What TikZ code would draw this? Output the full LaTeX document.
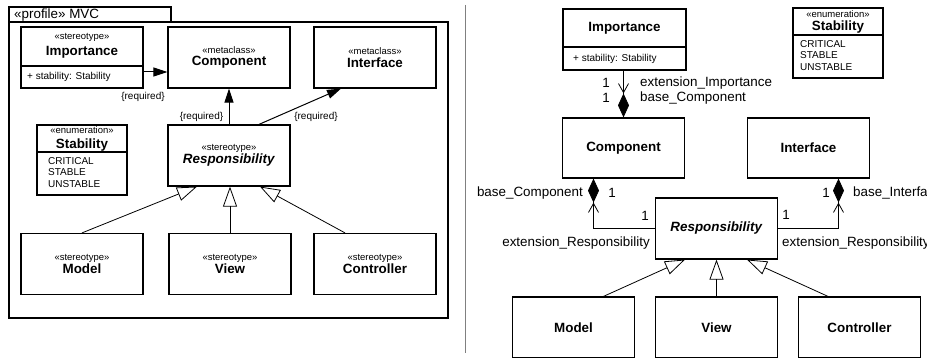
\documentclass[tikz,border=0pt]{standalone}
\usepackage{fontspec}
\setmainfont{Liberation Sans}
\usetikzlibrary{arrows.meta}

\def\bigsize{\fontsize{13.4}{15}\selectfont}
\def\midsize{\fontsize{10}{11.5}\selectfont}
\def\smallsize{\fontsize{9.5}{11}\selectfont}
\def\stereo#1{{\smallsize\mdseries«#1»}\\[-2.5pt]}

\begin{document}
\begin{tikzpicture}[x=1pt, y=-1pt,
    box/.style={draw, line width=1.2pt, inner sep=0pt, minimum width=122pt,
      minimum height=61pt, align=center, font=\bigsize\bfseries},
    enumbox/.style={draw, line width=1.2pt, inner sep=0pt, minimum width=90pt,
      minimum height=70pt},
    txt/.style={inner sep=0pt, font=\midsize},
    lbl/.style={inner sep=0pt, font=\bigsize},
    title/.style={inner sep=0pt, font=\bigsize\bfseries},
    req/.style={line width=1pt, -{Triangle[length=14pt,width=9pt]}},
    gen/.style={line width=0.8pt, -{Triangle[open,length=20pt,width=14pt]}},
    ext/.style={line width=0.8pt,
      -{Straight Barb[length=9pt,width=10pt,sep=0pt]Diamond[length=24pt,width=11pt]}}]
  \useasboundingbox (0,0) rectangle (927,358);
  \clip (0,0) rectangle (927,358);

  % ---- the profile package ----
  \draw[line width=1.2pt] (9,22) rectangle (448,318);
  \draw[line width=1.2pt] (9,22) |- (171,7) -- (171,22);
  \node[lbl, anchor=west] (pkg) at (14,15) {«profile» MVC};

  \node[box] (imp) at (82,57.5) {};
  \node[txt, font=\smallsize] (impst) at (82,37) {«stereotype»};
  \node[title] (impnm) at (82,52) {Importance};
  \draw[line width=1.2pt] (imp.west |- 0,66) -- (imp.east |- 0,66);
  \node[txt, anchor=west] (impat) at (27,77) {+ stability: Stability};

  \node[box] (cmp) at (229,57.5) {\stereo{metaclass}Component};
  \node[box] (ifc) at (375,57.5) {\stereo{metaclass}Interface};
  \node[box] (resp) at (229,155.5) {\stereo{stereotype}\textit{Responsibility}};

  \node[enumbox] (stab) at (82,160) {};
  \node[txt, font=\smallsize] (stabst) at (82,130) {«enumeration»};
  \node[title] (stabnm) at (82,145) {Stability};
  \draw[line width=1.2pt] (stab.west |- 0,152) -- (stab.east |- 0,152);
  \node[txt, anchor=north west, align=left] (stablit) at (48,157)
    {CRITICAL\\STABLE\\UNSTABLE};

  \foreach \x/\nm/\txt in {82/mdl/Model, 230/view/View, 375/ctrl/Controller}
    \node[box] (\nm) at (\x,264) {\stereo{stereotype}\txt};

  % required extensions
  \draw[req] ([yshift=-14.5pt]imp.east) -- ([yshift=-14.5pt]cmp.west);
  \draw[req] (resp) -- (cmp);
  \draw[req] ([xshift=30pt]resp.north) -- ([xshift=-34pt]ifc.south);
  \node[txt] (req1) at (143,97) {\{required\}};
  \node[txt] (req2) at (201.5,117) {\{required\}};
  \node[txt] (req3) at (316,117) {\{required\}};

  \draw[gen] (mdl.north) -- ([xshift=-32pt]resp.south);
  \draw[gen] (view.north) -- (view.north |- resp.south);
  \draw[gen] ([xshift=-30pt]ctrl.north) -- ([xshift=31pt]resp.south);

  % ---- separator ----
  \draw[gray, line width=1pt] (465,5) -- (465,353);

  % ---- class view of the same profile ----
  \node[box, minimum width=123pt] (imp2) at (624.5,39.5) {};
  \node[title] (imp2nm) at (624.5,28) {Importance};
  \draw[line width=1.2pt] (imp2.west |- 0,47) -- (imp2.east |- 0,47);
  \node[txt, anchor=west] (imp2at) at (573,59) {+ stability: Stability};

  \node[enumbox] (stab2) at (838,43) {};
  \node[txt, font=\smallsize] (stab2st) at (838,14) {«enumeration»};
  \node[title] (stab2nm) at (838,27) {Stability};
  \draw[line width=1.2pt] (stab2.west |- 0,35) -- (stab2.east |- 0,35);
  \node[txt, anchor=north west, align=left] (stab2lit) at (800,40)
    {CRITICAL\\STABLE\\UNSTABLE};

  \node[box, minimum height=60pt] (cmp2) at (623.5,148) {Component};
  \node[box, minimum height=60pt] (ifc2) at (808.5,148) {Interface};
  \node[box] (resp2) at (716.5,228.5) {\textit{Responsibility}};

  \foreach \x/\nm/\txt in {573.5/mdl2/Model, 716.5/view2/View, 859.5/ctrl2/Controller}
    \node[box] (\nm) at (\x,327.5) {\txt};

  % extension ends
  \draw[ext] (cmp2.north |- imp2.south) -- (cmp2.north);
  \node[lbl] (m1) at (606,83) {1};
  \node[lbl, anchor=west] (e1) at (640,83) {extension\_Importance};
  \node[lbl] (m2) at (606,98) {1};
  \node[lbl, anchor=west] (b1) at (640,98) {base\_Component};

  \draw[ext] (resp2.west) -| ([xshift=-30pt]cmp2.south);
  \node[lbl, anchor=east] (b2) at (583,193) {base\_Component};
  \node[lbl] (m3) at (612,193) {1};
  \node[lbl] (m4) at (645,216) {1};
  \node[lbl, anchor=east] (e2) at (650,243) {extension\_Responsibility};

  \draw[ext] (resp2.east) -| ([xshift=30pt]ifc2.south);
  \node[lbl] (m5) at (826,193) {1};
  \node[lbl, anchor=west] (b3) at (853,193) {base\_Interface};
  \node[lbl] (m6) at (786,215) {1};
  \node[lbl, anchor=west] (e3) at (782,243) {extension\_Responsibility};

  \draw[gen] ([xshift=30pt]mdl2.north) -- ([xshift=-31.5pt]resp2.south);
  \draw[gen] (view2) -- (resp2);
  \draw[gen] ([xshift=-31.5pt]ctrl2.north) -- ([xshift=30.5pt]resp2.south);
\end{tikzpicture}
\end{document}
